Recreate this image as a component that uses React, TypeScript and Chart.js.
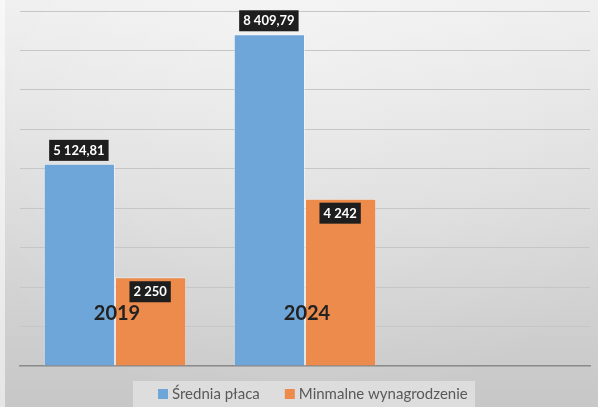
import React, { useEffect, useRef } from "react";
import { Chart, registerables } from "chart.js";

Chart.register(...registerables);

const categories = ["2019", "2024", ""];
const seriesNames = ["Średnia płaca", "Minmalne wynagrodzenie"];
const sredniaPlaca = [5124.81, 8409.79, null];
const minWynagrodzenie = [2250, 4242, null];
const seriesColors = ["#6fa6d9", "#ec8b4b"];
const yMax = 9000;
const yStep = 1000;

function formatPl(v: number): string {
  const isInt = Math.abs(v - Math.round(v)) < 1e-9;
  const fixed = isInt ? Math.round(v).toString() : v.toFixed(2);
  const [intPart, dec] = fixed.split(".");
  const grouped = intPart.replace(/\B(?=(\d{3})+(?!\d))/g, " ");
  return dec ? grouped + "," + dec : grouped;
}

const backgroundPlugin = {
  id: "bgPlugin",
  beforeDraw(chart: any) {
    const { ctx, width, height } = chart;
    ctx.save();
    const g = ctx.createLinearGradient(0, 0, 0, height);
    g.addColorStop(0, "#eeeeee");
    g.addColorStop(0.5, "#dbdbdb");
    g.addColorStop(1, "#c7c7c7");
    ctx.fillStyle = g;
    ctx.fillRect(0, 0, width, height);
    const r = ctx.createRadialGradient(width / 2, 0, 10, width / 2, 0, width * 0.7);
    r.addColorStop(0, "rgba(255,255,255,0.35)");
    r.addColorStop(1, "rgba(255,255,255,0)");
    ctx.fillStyle = r;
    ctx.fillRect(0, 0, width, height);
    ctx.fillStyle = "rgba(255,255,255,0.55)";
    ctx.fillRect(0, 0, 5, height);
    ctx.restore();
  },
};

const labelsPlugin = {
  id: "labelsPlugin",
  afterDatasetsDraw(chart: any) {
    const { ctx } = chart;
    ctx.save();
    const xs = chart.scales.x;
    ctx.font = "bold 20px Lato";
    ctx.fillStyle = "#222222";
    ctx.textAlign = "center";
    ctx.textBaseline = "middle";
    chart.data.labels.forEach((lab: string, i: number) => {
      if (!lab) return;
      ctx.fillText(lab, xs.getPixelForValue(i) + 2, chart.chartArea.bottom - 52);
    });
    ctx.font = "bold 13px Lato";
    chart.data.datasets.forEach((ds: any, di: number) => {
      const meta = chart.getDatasetMeta(di);
      meta.data.forEach((el: any, i: number) => {
        const v = ds.data[i];
        if (v == null) return;
        const txt = formatPl(v);
        const tw = ctx.measureText(txt).width;
        const bw = tw + 8;
        const bh = 21;
        const top = di === 0 ? el.y - 3 - bh : el.y + 4;
        const cx = el.x - 0.5;
        ctx.fillStyle = "#1e1e1e";
        ctx.fillRect(cx - bw / 2, top, bw, bh);
        ctx.fillStyle = "#ffffff";
        ctx.fillText(txt, cx, top + bh / 2 + 0.5);
      });
    });
    ctx.restore();
  },
  afterDraw(chart: any) {
    const { ctx } = chart;
    ctx.save();
    ctx.fillStyle = "#dddddd";
    ctx.fillRect(133, 381, 342, 30);
    ctx.font = "15px Lato";
    ctx.textBaseline = "middle";
    ctx.textAlign = "left";
    const y = 394;
    let x = 158;
    chart.data.datasets.forEach((ds: any) => {
      ctx.fillStyle = ds.backgroundColor;
      ctx.fillRect(x, y - 5, 10, 10);
      ctx.fillStyle = "#595959";
      ctx.fillText(ds.label, x + 14, y);
      const tw = ctx.measureText(ds.label).width;
      x = x + 14 + tw + 25;
    });
    ctx.restore();
  },
};

export default function App() {
  const ref = useRef<HTMLCanvasElement | null>(null);
  useEffect(() => {
    if (!ref.current) return;
    const chart = new Chart(ref.current, {
      type: "bar",
      data: {
        labels: categories,
        datasets: [
          {
            label: seriesNames[0],
            data: sredniaPlaca,
            backgroundColor: seriesColors[0],
            borderColor: "rgba(255,255,255,0.45)",
            borderWidth: 1,
          },
          {
            label: seriesNames[1],
            data: minWynagrodzenie,
            backgroundColor: seriesColors[1],
            borderColor: "rgba(255,255,255,0.45)",
            borderWidth: 1,
          },
        ],
      },
      options: {
        animation: false,
        responsive: false,
        maintainAspectRatio: false,
        layout: { padding: { left: 20, right: 8, top: 11, bottom: 41 } },
        datasets: { bar: { categoryPercentage: 0.75, barPercentage: 1 } },
        plugins: { legend: { display: false }, tooltip: { enabled: false } },
        scales: {
          x: {
            ticks: { display: false },
            grid: { display: false },
            border: { display: true, color: "#8a8a8a", width: 1.5 },
            afterFit: (s: any) => { s.height = 0; },
          },
          y: {
            min: 0,
            max: yMax,
            ticks: { display: false, stepSize: yStep },
            grid: { color: "#c6c6c6", lineWidth: 1, drawTicks: false },
            border: { display: false },
            afterFit: (s: any) => { s.width = 0; },
          },
        },
      },
      plugins: [backgroundPlugin, labelsPlugin],
    });
    return () => chart.destroy();
  }, []);
  return (
    <div style={{ position: "fixed", left: 0, top: 0, width: 598, height: 407 }}>
      <canvas ref={ref} width={598} height={407} style={{ display: "block" }} />
    </div>
  );
}
